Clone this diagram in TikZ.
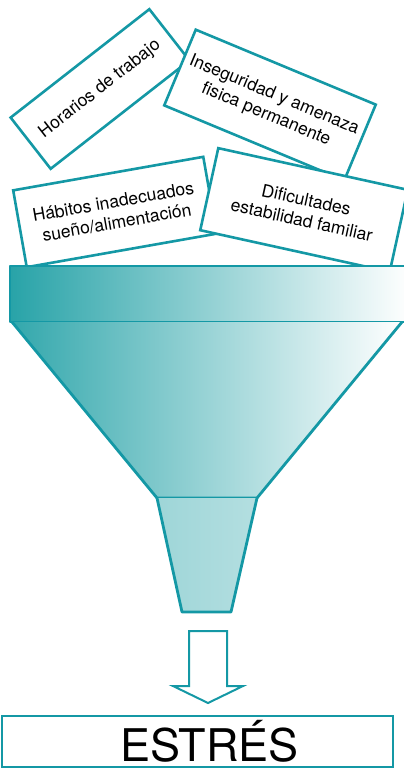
\documentclass[tikz,border=0pt]{standalone}
\usepackage{fontspec}
\setmainfont{TeX Gyre Heros}
\definecolor{lineteal}{RGB}{20,152,165}
\definecolor{fillteal}{RGB}{40,163,168}
\begin{document}
\begin{tikzpicture}[x=1pt,y=-1pt,
        causebox/.style={draw=lineteal,line width=2.6pt,fill=white,align=center,
            inner sep=0pt,font=\fontsize{17.5}{21}\selectfont},
        funnelline/.style={draw=lineteal,line width=2.8pt,line join=round}]
            \useasboundingbox (0,0) rectangle (404,771);
            % what goes in
            \node[causebox,minimum width=176,minimum height=65,rotate=38] (horarios) at (100,89) {Horarios de trabajo};
            \node[causebox,minimum width=195,minimum height=82,rotate=-22.6] (inseguridad) at (270,105) {Inseguridad y amenaza\\fisica permanente};
            \node[causebox,minimum width=193,minimum height=78,rotate=10] (habitos) at (115,212) {H\'abitos inadecuados\\sue\~no/alimentaci\'on};
            \node[causebox,minimum width=194,minimum height=84,rotate=-12.4] (familia) at (304,210) {Dificultades\\estabilidad familiar};
            % funnel
            \shade[left color=fillteal,right color=white] (10,266) rectangle (410,322);
            \draw[funnelline] (410,266) -- (10,266) -- (10,322) -- (410,322);
            \shade[left color=fillteal!95,right color=white] (12,322) -- (402,322) -- (257,498) -- (157,498) -- cycle;
            \draw[funnelline] (12,322) -- (157,498) -- (257,498) -- (402,322);
            \shade[left color=fillteal!45,right color=fillteal!35] (157,498) -- (257,498) -- (231,612) -- (182,612) -- cycle;
            \draw[funnelline] (157,498) -- (182,612) -- (231,612) -- (257,498);
            \coordinate (spout) at (207,612);
            % result
            \node[draw=lineteal,line width=2pt,minimum width=391,minimum height=51,inner sep=0pt,
                font=\fontsize{45}{50}\selectfont] (estres) at (197.5,741.5) {\hspace*{24pt}ESTR\'ES};
            \draw[draw=lineteal,line width=2pt,fill=white,line join=miter]
                (189,631) -- (227,631) -- (227,686) -- (243,686) -- (208,703) -- (173,686) -- (189,686) -- cycle;
        \end{tikzpicture}
\end{document}
